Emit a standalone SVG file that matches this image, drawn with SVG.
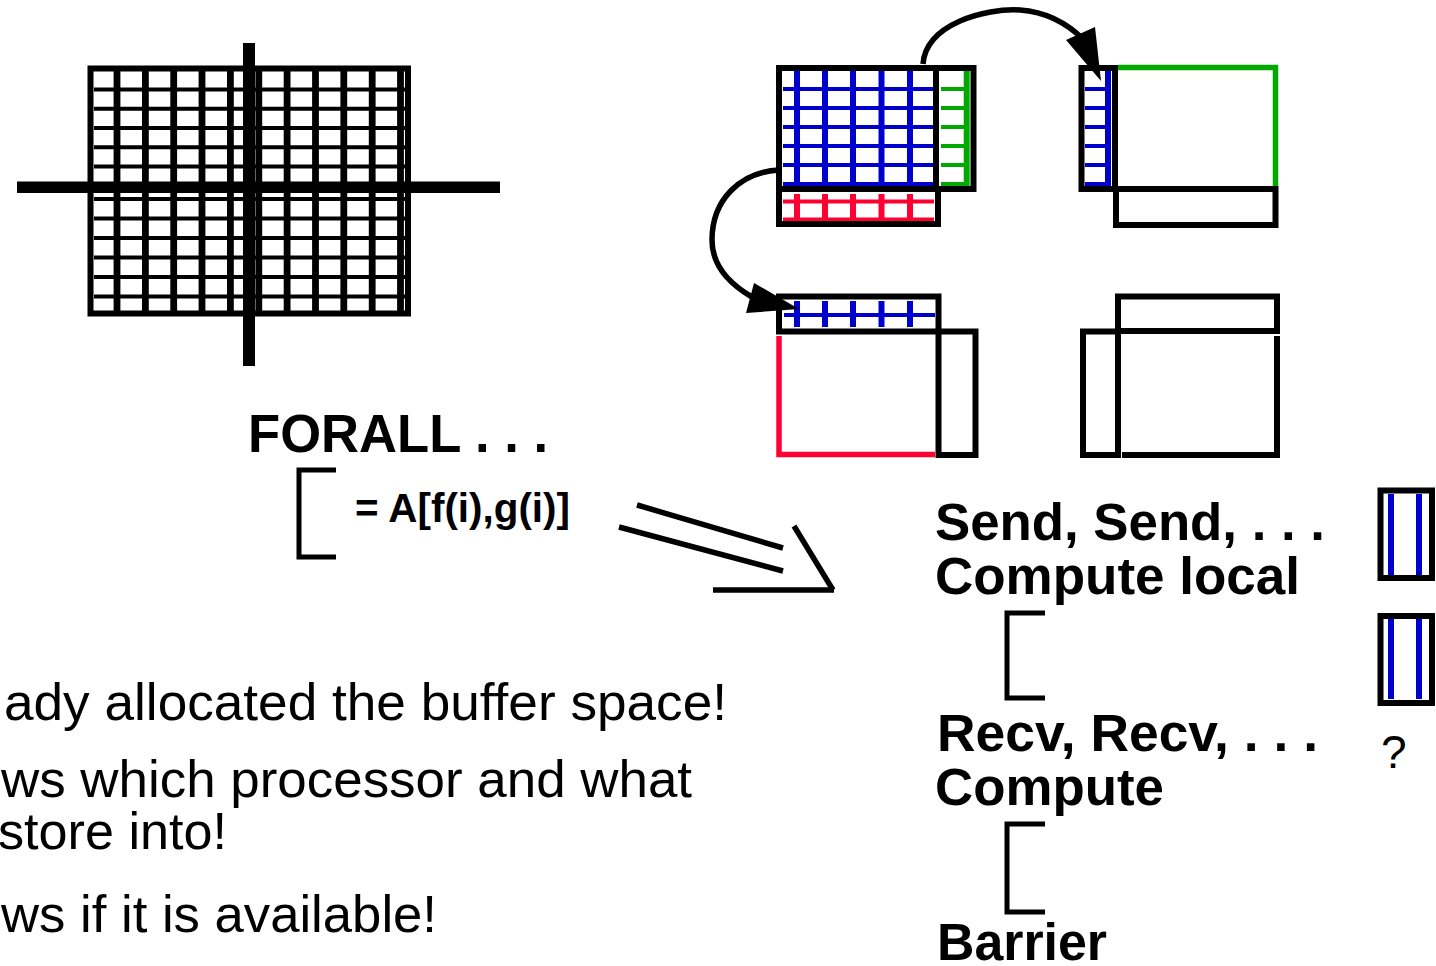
<svg xmlns="http://www.w3.org/2000/svg" width="1436" height="966" viewBox="0 0 1436 966">
  <style>
    .bg { fill: #ffffff; }
    .box { fill: none; stroke: #000; stroke-width: 6; }
    .gv { stroke: #000; stroke-width: 6.8; }
    .gh { stroke: #000; stroke-width: 4; }
    .bv { stroke: #0000cc; stroke-width: 6; }
    .bh { stroke: #0000cc; stroke-width: 4; }
    .gnv { stroke: #00a800; stroke-width: 6; }
    .gnh { stroke: #00a800; stroke-width: 4; }
    .rv { stroke: #ff0033; stroke-width: 6; }
    .rh { stroke: #ff0033; stroke-width: 4; }
    .edge-green { fill: none; stroke: #00a800; stroke-width: 5.5; }
    .edge-red { fill: none; stroke: #ff0033; stroke-width: 5.5; }
    .edge-black { fill: none; stroke: #000; stroke-width: 6; }
    .conn { fill: none; stroke: #000; stroke-width: 5.5; }
    .head { fill: #000; }
    .bracket { fill: none; stroke: #000; stroke-width: 5; }
    .bold { font-family: "Liberation Sans", Arial, sans-serif; font-weight: bold; fill: #000; }
    .reg { font-family: "Liberation Sans", Arial, sans-serif; fill: #000; }
  </style>
  <rect class="bg" x="0" y="0" width="1436" height="966"/>

  <!-- Global array with its 2x2 partition -->
  <g id="global-array">
    <g class="gh">
      <line x1="94" y1="89.5" x2="405" y2="89.5"/>
      <line x1="94" y1="108.7" x2="405" y2="108.7"/>
      <line x1="94" y1="128" x2="405" y2="128"/>
      <line x1="94" y1="147.2" x2="405" y2="147.2"/>
      <line x1="94" y1="166.4" x2="405" y2="166.4"/>
      <line x1="94" y1="199" x2="405" y2="199"/>
      <line x1="94" y1="218.5" x2="405" y2="218.5"/>
      <line x1="94" y1="238" x2="405" y2="238"/>
      <line x1="94" y1="257.5" x2="405" y2="257.5"/>
      <line x1="94" y1="277" x2="405" y2="277"/>
      <line x1="94" y1="296.5" x2="405" y2="296.5"/>
    </g>
    <g class="gv">
      <line x1="117" y1="71" x2="117" y2="311"/>
      <line x1="145.4" y1="71" x2="145.4" y2="311"/>
      <line x1="173.7" y1="71" x2="173.7" y2="311"/>
      <line x1="202" y1="71" x2="202" y2="311"/>
      <line x1="230.4" y1="71" x2="230.4" y2="311"/>
      <line x1="258.8" y1="71" x2="258.8" y2="311"/>
      <line x1="287.1" y1="71" x2="287.1" y2="311"/>
      <line x1="315.5" y1="71" x2="315.5" y2="311"/>
      <line x1="343.8" y1="71" x2="343.8" y2="311"/>
      <line x1="372.2" y1="71" x2="372.2" y2="311"/>
      <line x1="400.5" y1="71" x2="400.5" y2="311"/>
    </g>
    <rect class="box" x="90.5" y="68.5" width="317.5" height="245" stroke-width="6.5"/>
    <rect x="243" y="43" width="12" height="323" fill="#000"/>
    <rect x="17" y="181.5" width="483" height="11.5" fill="#000"/>
  </g>

  <!-- Processor 0: local block (blue), ghost column (green), ghost row (red) -->
  <g id="proc-top-left">
    <g class="bh">
      <line x1="783" y1="89" x2="934" y2="89"/>
      <line x1="783" y1="108" x2="934" y2="108"/>
      <line x1="783" y1="127" x2="934" y2="127"/>
      <line x1="783" y1="146" x2="934" y2="146"/>
      <line x1="783" y1="165" x2="934" y2="165"/>
      <line x1="783" y1="184" x2="934" y2="184"/>
    </g>
    <g class="bv">
      <line x1="797" y1="71" x2="797" y2="186"/>
      <line x1="825" y1="71" x2="825" y2="186"/>
      <line x1="853" y1="71" x2="853" y2="186"/>
      <line x1="881.5" y1="71" x2="881.5" y2="186"/>
      <line x1="910" y1="71" x2="910" y2="186"/>
    </g>
    <g class="gnh">
      <line x1="941" y1="89" x2="966" y2="89"/>
      <line x1="941" y1="108" x2="966" y2="108"/>
      <line x1="941" y1="127" x2="966" y2="127"/>
      <line x1="941" y1="146" x2="966" y2="146"/>
      <line x1="941" y1="165" x2="966" y2="165"/>
      <line x1="941" y1="184" x2="966" y2="184"/>
    </g>
    <line class="gnv" x1="966.7" y1="71" x2="966.7" y2="186"/>
    <g class="rh">
      <line x1="783" y1="201.5" x2="934" y2="201.5"/>
      <line x1="783" y1="219.5" x2="934" y2="219.5"/>
    </g>
    <g class="rv">
      <line x1="797" y1="194" x2="797" y2="221"/>
      <line x1="825" y1="194" x2="825" y2="221"/>
      <line x1="853" y1="194" x2="853" y2="221"/>
      <line x1="881.5" y1="194" x2="881.5" y2="221"/>
      <line x1="910" y1="194" x2="910" y2="221"/>
    </g>
    <rect class="box" x="779" y="68" width="157" height="121"/>
    <rect class="box" x="936" y="68" width="37.5" height="121"/>
    <rect class="box" x="779" y="189" width="159" height="35"/>
  </g>

  <!-- Processor 1 -->
  <g id="proc-top-right">
    <g class="bh">
      <line x1="1085" y1="89" x2="1106" y2="89"/>
      <line x1="1085" y1="108" x2="1106" y2="108"/>
      <line x1="1085" y1="127" x2="1106" y2="127"/>
      <line x1="1085" y1="146" x2="1106" y2="146"/>
      <line x1="1085" y1="165" x2="1106" y2="165"/>
      <line x1="1085" y1="184" x2="1106" y2="184"/>
    </g>
    <line class="bv" x1="1108" y1="71" x2="1108" y2="186"/>
    <path class="edge-green" d="M1118,67.5 H1275.5 V186"/>
    <rect class="box" x="1081.5" y="68" width="33.5" height="121"/>
    <rect class="box" x="1116" y="189" width="159.5" height="36"/>
  </g>

  <!-- Processor 2 -->
  <g id="proc-bottom-left">
    <line class="bh" x1="784" y1="315" x2="935" y2="315"/>
    <g class="bv">
      <line x1="797" y1="301" x2="797" y2="327"/>
      <line x1="825" y1="301" x2="825" y2="327"/>
      <line x1="853" y1="301" x2="853" y2="327"/>
      <line x1="881.5" y1="301" x2="881.5" y2="327"/>
      <line x1="910" y1="301" x2="910" y2="327"/>
    </g>
    <path class="edge-red" d="M779,336 V454.5 H935"/>
    <rect class="box" x="779" y="296.5" width="159.5" height="35"/>
    <rect class="box" x="938.5" y="331.5" width="37" height="123.5"/>
  </g>

  <!-- Processor 3 -->
  <g id="proc-bottom-right">
    <path class="edge-black" d="M1277,336 V455 H1122"/>
    <rect class="box" x="1118" y="296.5" width="159" height="34.5"/>
    <rect class="box" x="1083" y="331.5" width="35" height="123.5"/>
  </g>

  <!-- Buffer columns -->
  <g id="buffer-1">
    <rect class="box" x="1380.5" y="490.5" width="51.5" height="87.5" stroke-width="6.5"/>
    <line class="bv" x1="1391" y1="494" x2="1391" y2="575"/>
    <line class="bv" x1="1419" y1="494" x2="1419" y2="575"/>
  </g>
  <g id="buffer-2">
    <rect class="box" x="1380.5" y="616" width="51.5" height="87" stroke-width="6.5"/>
    <line class="bv" x1="1391" y1="619" x2="1391" y2="699"/>
    <line class="bv" x1="1419" y1="619" x2="1419" y2="699"/>
  </g>
  <text class="reg" x="1381" y="768" font-size="46">?</text>

  <!-- Source code -->
  <g id="forall">
    <text class="bold" x="248" y="452" font-size="53" textLength="300" lengthAdjust="spacingAndGlyphs">FORALL . . .</text>
    <path class="bracket" d="M336,470 H299 V557 H336"/>
    <text class="bold" x="355" y="522" font-size="41" textLength="215" lengthAdjust="spacingAndGlyphs">= A[f(i),g(i)]</text>
  </g>

  <!-- Generated code -->
  <g id="generated">
    <text class="bold" x="935" y="540" font-size="51" textLength="390" lengthAdjust="spacingAndGlyphs">Send, Send, . . .</text>
    <text class="bold" x="935" y="594" font-size="51" textLength="365" lengthAdjust="spacingAndGlyphs">Compute local</text>
    <path class="bracket" d="M1045,613 H1007 V698 H1045"/>
    <text class="bold" x="937" y="751" font-size="51" textLength="381" lengthAdjust="spacingAndGlyphs">Recv, Recv, . . .</text>
    <text class="bold" x="935" y="805" font-size="51" textLength="229" lengthAdjust="spacingAndGlyphs">Compute</text>
    <path class="bracket" d="M1045,824 H1007 V912 H1045"/>
    <text class="bold" x="937" y="960" font-size="51" textLength="170" lengthAdjust="spacingAndGlyphs">Barrier</text>
  </g>

  <!-- Notes -->
  <g id="notes">
    <text class="reg" x="4" y="720" font-size="52" textLength="723" lengthAdjust="spacingAndGlyphs">ady allocated the buffer space!</text>
    <text class="reg" x="1" y="797" font-size="52" textLength="691" lengthAdjust="spacingAndGlyphs">ws which processor and what</text>
    <text class="reg" x="-2" y="849" font-size="52" textLength="229" lengthAdjust="spacingAndGlyphs">store into!</text>
    <text class="reg" x="1" y="932" font-size="52" textLength="436" lengthAdjust="spacingAndGlyphs">ws if it is available!</text>
  </g>

  <!-- Communication arrows -->
  <g id="connectors">
    <path class="conn" d="M923,64 C926,24 985,8 1020,10 C1048,12 1068,24 1084,40"/>
    <polygon class="head" points="1066,40 1095,27 1101,81"/>
    <path class="conn" d="M779,170 C740,172 712,200 712,240 C712,264 728,283 752,297"/>
    <polygon class="head" points="754,283 746,313 799,309"/>
    <g class="conn">
      <line x1="637" y1="505" x2="783" y2="548"/>
      <line x1="619" y1="527" x2="783" y2="571"/>
      <line x1="794" y1="526" x2="833" y2="590"/>
      <line x1="713" y1="590" x2="834" y2="590"/>
    </g>
  </g>
</svg>
